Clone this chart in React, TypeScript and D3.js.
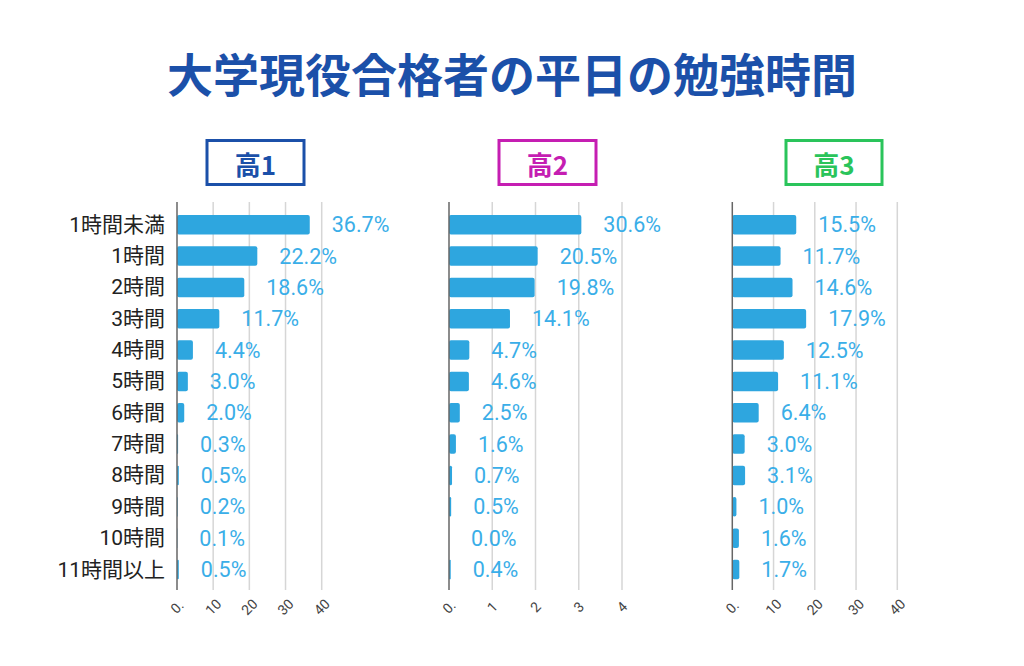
import React from "react";
import * as d3 from "d3";

const categories = ["1時間未満", "1時間", "2時間", "3時間", "4時間", "5時間", "6時間", "7時間", "8時間", "9時間", "10時間", "11時間以上"];
const h1Values = [36.7, 22.2, 18.6, 11.7, 4.4, 3.0, 2.0, 0.3, 0.5, 0.2, 0.1, 0.5];
const h2Values = [30.6, 20.5, 19.8, 14.1, 4.7, 4.6, 2.5, 1.6, 0.7, 0.5, 0.0, 0.4];
const h3Values = [15.5, 11.7, 14.6, 17.9, 12.5, 11.1, 6.4, 3.0, 3.1, 1.0, 1.6, 1.7];
const tickValues = [0, 10, 20, 30, 40];
const tickLabelsA = ["0.", "10", "20", "30", "40"];
const tickLabelsB = ["0.", "1", "2", "3", "4"];
const panelTitles = ["高1", "高2", "高3"];

const TITLE = "大学現役合格者の平日の勉強時間";
const W = 1024, H = 666;
const BAR_COLOR = "#2ea6df";
const LABEL_COLOR = "#3aaee8";
const FONT = "Roboto, 'Noto Sans CJK JP', sans-serif";
const CJK = "'Noto Sans CJK JP', sans-serif";

const panels = [
  { title: panelTitles[0], values: h1Values, ticks: tickLabelsA, x0: 177, x1: 321.7, color: "#1b50a9", box: [207, 140.5, 97, 44] },
  { title: panelTitles[1], values: h2Values, ticks: tickLabelsB, x0: 449, x1: 622, color: "#c51eb2", box: [499, 140.5, 97, 44] },
  { title: panelTitles[2], values: h3Values, ticks: tickLabelsA, x0: 732.3, x1: 897.3, color: "#2ac45b", box: [786, 140.5, 96, 44] },
];

const y = d3.scalePoint<string>().domain(categories).range([224.7, 569.5]);
const BAR_H = 19.5;
const GRID_TOP = 202, GRID_BOTTOM = 590;

function Panel({ p, showCats }: { p: typeof panels[number]; showCats: boolean }) {
  const x = d3.scaleLinear().domain([0, 40]).range([p.x0, p.x1]);
  const [bx, by, bw, bh] = p.box;
  return (
    <g>
      <rect x={bx} y={by} width={bw} height={bh} fill="white" stroke={p.color} strokeWidth={3} />
      <text x={bx + bw / 2} y={by + bh / 2 + 1} textAnchor="middle" dominantBaseline="central"
        fontFamily={CJK} fontWeight={700} fontSize={26} fill={p.color}>{p.title}</text>
      {tickValues.slice(1).map((t) => (
        <line key={t} x1={x(t)} x2={x(t)} y1={GRID_TOP} y2={GRID_BOTTOM} stroke="#d6d6d6" strokeWidth={1.5} />
      ))}
      {p.values.map((v, i) => {
        const c = categories[i];
        const w = Math.max(0, x(v) - x(0));
        return (
          <g key={c}>
            {w > 0 && (
              <rect x={x(0)} y={(y(c) as number) - BAR_H / 2} width={w} height={BAR_H} rx={Math.min(2, w / 2)} fill={BAR_COLOR} />
            )}
            <text x={x(v) + 22} y={y(c) as number} dominantBaseline="central" fontFamily={FONT} fontSize={21.5} fill={LABEL_COLOR}>
              {v.toFixed(1)}%
            </text>
          </g>
        );
      })}
      <line x1={x(0)} x2={x(0)} y1={GRID_TOP} y2={GRID_BOTTOM} stroke="#666" strokeWidth={1.5} />
      {tickValues.map((t, i) => (
        <text key={t} transform={`translate(${x(t)},607) rotate(-45)`} textAnchor="middle" dominantBaseline="central"
          fontFamily={FONT} fontSize={14} fill="#444">{p.ticks[i]}</text>
      ))}
      {showCats && categories.map((c) => (
        <text key={c} x={165} y={y(c) as number} textAnchor="end" dominantBaseline="central"
          fontFamily={FONT} fontSize={21} fill="#222">{c}</text>
      ))}
    </g>
  );
}

export default function App() {
  return (
    <svg width={W} height={H} viewBox={`0 0 ${W} ${H}`} style={{ position: "absolute", left: 0, top: 0, background: "white" }}>
      <rect width={W} height={H} fill="white" />
      <text x={512} y={72} textAnchor="middle" dominantBaseline="central" fontFamily={CJK} fontWeight={700}
        fontSize={46} fill="#1b50a9">{TITLE}</text>
      {panels.map((p, i) => (
        <Panel key={p.title} p={p} showCats={i === 0} />
      ))}
    </svg>
  );
}
